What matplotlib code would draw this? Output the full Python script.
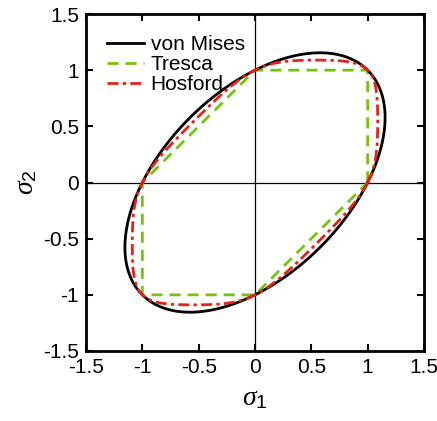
import numpy as np
import matplotlib
matplotlib.use("Agg")
import matplotlib.pyplot as plt

# yield criteria drawn in the sigma1-sigma2 plane
names = ["von Mises", "Tresca", "Hosford"]
colors = ["black", "#77c20e", "#e2231a"]
styles = ["-", (0, (4, 2.5)), (0, (4, 1.5, 1.2, 1.5))]
hosford_exp = [2, 8]   # exponent a: von Mises (a=2), Hosford (a=8)

# Tresca hexagon vertices
tresca_s1 = [1, 1, 0, -1, -1, 0, 1]
tresca_s2 = [0, 1, 1, 0, -1, -1, 0]

ticks = [-1.5, -1, -0.5, 0, 0.5, 1, 1.5]
tick_labels = ["-1.5", "-1", "-0.5", "0", "0.5", "1", "1.5"]

plt.rcParams["font.family"] = ["Liberation Sans", "DejaVu Sans"]
plt.rcParams["mathtext.fontset"] = "custom"
plt.rcParams["mathtext.it"] = "Liberation Serif:italic"
plt.rcParams["mathtext.rm"] = "Liberation Sans"


def hosford_curve(a, n=721):
    th = np.linspace(0, 2 * np.pi, n)
    c, s = np.cos(th), np.sin(th)
    g = np.abs(c - s) ** a + np.abs(c) ** a + np.abs(s) ** a
    r = (2.0 / g) ** (1.0 / a)
    return r * c, r * s


fig = plt.figure(figsize=(4.37, 4.21), dpi=100)
ax = fig.add_axes([86 / 437, 70 / 421, 338 / 437, 337 / 421])

ax.axhline(0, color="black", lw=0.9, zorder=1)
ax.axvline(0, color="black", lw=0.9, zorder=1)

x, y = hosford_curve(hosford_exp[0])
ax.plot(x, y, color=colors[0], ls=styles[0], lw=2, label=names[0], zorder=3)
ax.plot(tresca_s1, tresca_s2, color=colors[1], ls=styles[1], lw=2, label=names[1], zorder=2)
x, y = hosford_curve(hosford_exp[1])
ax.plot(x, y, color=colors[2], ls=styles[2], lw=2, label=names[2], zorder=4)

ax.set_xlim(-1.5, 1.5)
ax.set_ylim(-1.5, 1.5)
ax.set_xticks(ticks)
ax.set_yticks(ticks)
ax.set_xticklabels(tick_labels)
ax.set_yticklabels(tick_labels)
ax.tick_params(direction="in", top=True, right=True, length=5, width=1.5,
               labelsize=15, pad=5)
for sp in ax.spines.values():
    sp.set_linewidth(2)

ax.set_xlabel(r"$\sigma_1$", fontsize=20, labelpad=6)
ax.set_ylabel(r"$\sigma_2$", fontsize=20, labelpad=3)

ax.legend(loc="upper left", frameon=False, fontsize=15, handlelength=1.8,
          handletextpad=0.3, labelspacing=0.05, borderaxespad=0.6)

fig.savefig("out.png", dpi=100)
